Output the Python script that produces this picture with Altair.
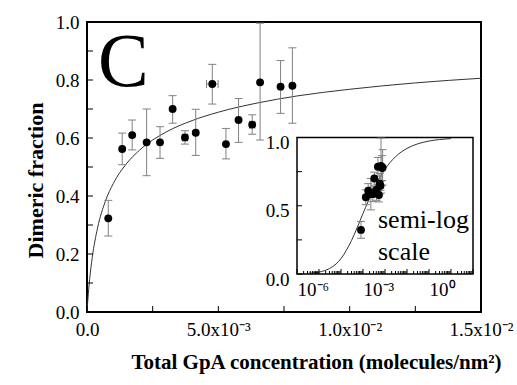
import altair as alt
import pandas as pd

# ---------------- data ----------------
conc = [0.00081, 0.00134, 0.00172, 0.00227, 0.00278, 0.00326, 0.00373, 0.00414,
        0.00477, 0.00529, 0.00577, 0.00629, 0.00659, 0.00737, 0.00782]
frac = [0.323, 0.562, 0.610, 0.585, 0.585, 0.700, 0.602, 0.618,
        0.786, 0.579, 0.662, 0.646, 0.792, 0.777, 0.780]
frac_lo = [0.262, 0.508, 0.559, 0.470, 0.530, 0.651, 0.579, 0.540,
           0.717, 0.528, 0.585, 0.613, 0.593, 0.685, 0.651]
frac_hi = [0.385, 0.617, 0.662, 0.700, 0.639, 0.746, 0.625, 0.699,
           0.854, 0.633, 0.736, 0.680, 0.996, 0.867, 0.911]
conc_err = [0, 0, 0, 0, 0, 0, 0.0001, 0, 0.00022, 0, 0, 0.0001, 0, 0, 0]

# fitted curve, linear panel
fit_c = [0, 0.00005, 0.0001, 0.0002, 0.0004, 0.0007, 0.001, 0.0015, 0.002, 0.003,
         0.004, 0.005, 0.0065, 0.008, 0.01, 0.0125, 0.015]
fit_f = [0, 0.063, 0.113, 0.188, 0.289, 0.382, 0.443, 0.511, 0.558, 0.620,
         0.660, 0.689, 0.721, 0.745, 0.768, 0.790, 0.806]

# fitted curve, semi-log inset
log_c = [1e-6, 3e-6, 1e-5, 3e-5, 6e-5, 1e-4, 3e-4, 1e-3, 3e-3, 1e-2, 3e-2, 1e-1, 3e-1, 1, 3, 10]
log_f = [0.0014, 0.0043, 0.014, 0.040, 0.074, 0.113, 0.245, 0.443, 0.620, 0.768, 0.859,
         0.920, 0.953, 0.974, 0.985, 0.992]

# axes
x_domain = [0, 0.015]
y_domain = [0, 1]
x_label_values = [0, 0.005, 0.01, 0.015]
x_label_texts = ["0.0", "5.0x10\u207b\u00b3", "1.0x10\u207b\u00b2", "1.5x10\u207b\u00b2"]
x_tick_values = [0, 0.0025, 0.005, 0.0075, 0.01, 0.0125, 0.015]
y_label_values = [0, 0.2, 0.4, 0.6, 0.8, 1.0]
y_tick_values = [0, 0.1, 0.2, 0.3, 0.4, 0.5, 0.6, 0.7, 0.8, 0.9, 1.0]

inset_x_domain = [1e-6, 1e2]
inset_y_domain = [0, 1]
inset_x_label_values = [1e-6, 1e-3, 1]
inset_x_label_texts = ["10\u207b\u2076", "10\u207b\u00b3", "10\u2070"]
inset_x_major = [1e-6, 1e-5, 1e-4, 1e-3, 1e-2, 1e-1, 1, 10, 100]
inset_x_minor = [m * d for d in [1e-6, 1e-5, 1e-4, 1e-3, 1e-2, 1e-1, 1, 10] for m in range(2, 10)]
inset_y_label_values = [0, 0.5, 1.0]
inset_y_tick_values = [0, 0.25, 0.5, 0.75, 1.0]

panel_letter = ["C"]
panel_letter_x = [0.00042]
panel_letter_y = [0.78]
inset_note = ["semi-log", "scale"]
inset_note_x = [0.0048, 0.0048]
inset_note_y = [0.34, 0.10]

x_title = "Total GpA concentration (molecules/nm\u00b2)"
y_title = "Dimeric fraction"

# ---------------- layout ----------------
W, H = 394, 290
PAD = {"left": 87, "top": 22, "right": 36, "bottom": 73}
INSET_X_RANGE = [210, 386]
INSET_Y_RANGE = [252, 115.5]
FONT = "Liberation Serif"
BAR = "#808080"
TICK_LEN = 6
IN_TICK_MAJOR = 5
IN_TICK_MINOR = 3


def label_expr(values, texts):
    expr = "''"
    for v, t in reversed(list(zip(values, texts))):
        expr = f"datum.value == {v!r} ? '{t}' : ({expr})"
    return expr


pts = pd.DataFrame(dict(c=conc, f=frac, lo=frac_lo, hi=frac_hi, ce=conc_err))
fit = pd.DataFrame(dict(c=fit_c, f=fit_f))
logfit = pd.DataFrame(dict(c=log_c, f=log_f))

# ---------------- main panel ----------------
xs = alt.Scale(domain=x_domain, nice=False, zero=False)
ys = alt.Scale(domain=y_domain, nice=False, zero=False)
xaxis = alt.Axis(values=x_label_values, labelExpr=label_expr(x_label_values, x_label_texts),
                 ticks=False, domain=False, grid=False, labelFont=FONT, labelFontSize=19,
                 labelColor="black", labelPadding=8, labelFlush=False, labelOverlap=False,
                 title=x_title, titleFont=FONT, titleFontSize=21, titleFontWeight="bold",
                 titleColor="black", titleX=229, titleY=56, titleBaseline="alphabetic",
                 titleAlign="center", orient="bottom")
yaxis = alt.Axis(values=y_label_values, format=".1f", ticks=False, domain=False, grid=False,
                 labelFont=FONT, labelFontSize=19, labelColor="black", labelPadding=8,
                 labelFlush=False, labelOverlap=False,
                 title=y_title, titleFont=FONT, titleFontSize=22, titleFontWeight="bold",
                 titleColor="black", titleAngle=-90, titleX=-45, titleY=158,
                 titleBaseline="alphabetic", titleAlign="center", orient="left")


def X(field):
    return alt.X(field, type="quantitative", scale=xs, axis=xaxis)


def Y(field):
    return alt.Y(field, type="quantitative", scale=ys, axis=yaxis)


main_curve = alt.Chart(fit).mark_line(color="#333333", strokeWidth=1, interpolate="monotone").encode(
    x=X("c"), y=Y("f"))
main_vbar = alt.Chart(pts).mark_rule(color=BAR, strokeWidth=1).encode(x=X("c"), y=Y("lo"), y2="hi")
main_cap_lo = alt.Chart(pts).mark_tick(orient="horizontal", size=8, thickness=1, color=BAR, opacity=1).encode(
    x=X("c"), y=Y("lo"))
main_cap_hi = alt.Chart(pts).mark_tick(orient="horizontal", size=8, thickness=1, color=BAR, opacity=1).encode(
    x=X("c"), y=Y("hi"))
xerr_base = alt.Chart(pts).transform_filter("datum.ce > 0").transform_calculate(
    clo="datum.c - datum.ce", chi="datum.c + datum.ce")
main_hbar = xerr_base.mark_rule(color=BAR, strokeWidth=1).encode(x=X("clo:Q"), x2="chi:Q", y=Y("f"))
main_hcap_lo = xerr_base.mark_tick(orient="vertical", size=8, thickness=1, color=BAR, opacity=1).encode(
    x=X("clo:Q"), y=Y("f"))
main_hcap_hi = xerr_base.mark_tick(orient="vertical", size=8, thickness=1, color=BAR, opacity=1).encode(
    x=X("chi:Q"), y=Y("f"))
main_pts = alt.Chart(pts).mark_circle(size=62, color="black", opacity=1).encode(x=X("c"), y=Y("f"))
main_yticks = alt.Chart(pd.DataFrame({"v": y_tick_values})).mark_rule(color="black", strokeWidth=1).encode(
    y=Y("v"), x=alt.value(0), x2=alt.value(TICK_LEN))
main_xticks = alt.Chart(pd.DataFrame({"v": x_tick_values})).mark_rule(color="black", strokeWidth=1).encode(
    x=X("v"), y=alt.value(H), y2=alt.value(H - TICK_LEN))
letter = alt.Chart(pd.DataFrame({"t": panel_letter, "x": panel_letter_x, "y": panel_letter_y})).mark_text(
    font=FONT, fontSize=76, align="left", baseline="alphabetic", color="black").encode(
    x=X("x"), y=Y("y"), text="t:N")

main = alt.layer(main_curve, main_vbar, main_cap_lo, main_cap_hi, main_hbar, main_hcap_lo,
                 main_hcap_hi, main_pts, main_yticks, main_xticks, letter)

# ---------------- inset ----------------
ixs = alt.Scale(type="log", domain=inset_x_domain, range=INSET_X_RANGE, nice=False)
iys = alt.Scale(domain=inset_y_domain, range=INSET_Y_RANGE, nice=False, zero=False)
ixaxis = alt.Axis(values=inset_x_label_values,
                  labelExpr=label_expr(inset_x_label_values, inset_x_label_texts),
                  ticks=False, domain=False, grid=False, labelFont=FONT, labelFontSize=19,
                  labelColor="black", labelPadding=6, labelAlign="left", labelFlush=False,
                  labelOverlap=False, title=None, orient="bottom", offset=-(H - INSET_Y_RANGE[0]))
iyaxis = alt.Axis(values=inset_y_label_values, format=".1f", ticks=False, domain=False, grid=False,
                  labelFont=FONT, labelFontSize=19, labelColor="black", labelPadding=8,
                  labelFlush=False, labelOverlap=False, labelOffset=5, title=None, orient="left",
                  offset=-INSET_X_RANGE[0])


def IX(field):
    return alt.X(field, type="quantitative", scale=ixs, axis=ixaxis)


def IY(field):
    return alt.Y(field, type="quantitative", scale=iys, axis=iyaxis)


frame_df = pd.DataFrame({"x0": [inset_x_domain[0]], "x1": [inset_x_domain[1]],
                         "y0": [inset_y_domain[0]], "y1": [inset_y_domain[1]]})
in_frame = alt.Chart(frame_df).mark_rect(fill="white", stroke="black", strokeWidth=1.5).encode(
    x=IX("x0"), x2="x1", y=IY("y0"), y2="y1")
in_curve = alt.Chart(logfit).mark_line(color="#333333", strokeWidth=1, interpolate="monotone").encode(
    x=IX("c"), y=IY("f"))
in_vbar = alt.Chart(pts).mark_rule(color=BAR, strokeWidth=1).encode(x=IX("c"), y=IY("lo"), y2="hi")
in_cap_lo = alt.Chart(pts).mark_tick(orient="horizontal", size=8, thickness=1, color=BAR, opacity=1).encode(
    x=IX("c"), y=IY("lo"))
in_cap_hi = alt.Chart(pts).mark_tick(orient="horizontal", size=8, thickness=1, color=BAR, opacity=1).encode(
    x=IX("c"), y=IY("hi"))
in_pts = alt.Chart(pts).mark_circle(size=62, color="black", opacity=1).encode(x=IX("c"), y=IY("f"))
in_major = alt.Chart(pd.DataFrame({"v": inset_x_major})).mark_rule(color="black", strokeWidth=1).encode(
    x=IX("v"), y=alt.value(INSET_Y_RANGE[0]), y2=alt.value(INSET_Y_RANGE[0] - IN_TICK_MAJOR))
in_minor = alt.Chart(pd.DataFrame({"v": inset_x_minor})).mark_rule(color="black", strokeWidth=1).encode(
    x=IX("v"), y=alt.value(INSET_Y_RANGE[0]), y2=alt.value(INSET_Y_RANGE[0] - IN_TICK_MINOR))
in_yticks = alt.Chart(pd.DataFrame({"v": inset_y_tick_values})).mark_rule(color="black", strokeWidth=1).encode(
    y=IY("v"), x=alt.value(INSET_X_RANGE[0]), x2=alt.value(INSET_X_RANGE[0] + IN_TICK_MAJOR))
in_note = alt.Chart(pd.DataFrame({"t": inset_note, "x": inset_note_x, "y": inset_note_y})).mark_text(
    font=FONT, fontSize=26, align="left", baseline="alphabetic", color="black").encode(
    x=IX("x"), y=IY("y"), text="t:N")

inset = alt.layer(in_frame, in_curve, in_vbar, in_cap_lo, in_cap_hi, in_pts,
                  in_major, in_minor, in_yticks, in_note)

chart = alt.layer(main, inset).resolve_scale(x="independent", y="independent").properties(
    width=W, height=H, padding=PAD, autosize=alt.AutoSizeParams(type="none"), background="white"
).configure_view(stroke="black", strokeWidth=2)

chart.save("out.html", embed_options={"renderer": "svg", "actions": False})
